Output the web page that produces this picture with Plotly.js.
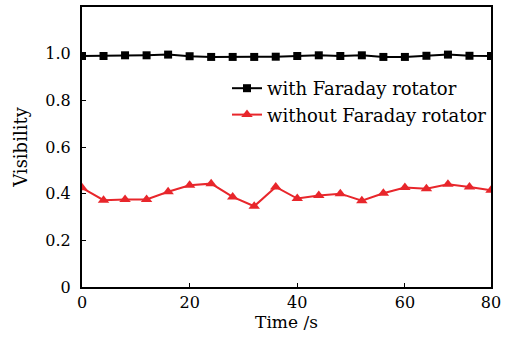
<!DOCTYPE html>
<html>
<head>
<meta charset="utf-8">
<script src="https://cdn.plot.ly/plotly-3.0.1.min.js"></script>
<style>html,body{margin:0;padding:0;background:#fff;}#chart{width:518px;height:341px;}</style>
</head>
<body>
<div id="chart"></div>
<script>
const timeS = [0,4,8,12,16,20,24,28,32,36,40,44,48,52,56,60,64,68,72,76];
const withRotator = [0.990,0.990,0.993,0.993,0.996,0.989,0.986,0.986,0.986,0.987,0.990,0.993,0.990,0.993,0.986,0.986,0.991,0.996,0.991,0.990];
const withoutRotator = [0.425,0.372,0.375,0.375,0.408,0.436,0.443,0.386,0.346,0.429,0.379,0.392,0.400,0.370,0.402,0.426,0.421,0.440,0.429,0.415];
const xTickVals = [0,20,40,60,76];
const xTickText = ['0','20','40','60','80'];
const yTickVals = [0,0.2,0.4,0.6,0.8,1.0];
const yTickText = ['0','0.2','0.4','0.6','0.8','1.0'];
const seriesNames = ['with Faraday rotator','without Faraday rotator'];

const font = {family:'DejaVu Serif, Liberation Serif, serif', size:16, color:'#000'};
const traces = [
  {x:timeS, y:withRotator, name:seriesNames[0], mode:'lines+markers',
   line:{color:'#000', width:2}, marker:{symbol:'square', size:8, color:'#000'}},
  {x:timeS, y:withoutRotator, name:seriesNames[1], mode:'lines+markers',
   line:{color:'#e8262b', width:2}, marker:{symbol:'triangle-up', size:10, color:'#e8262b'}}
];
const layout = {
  width:518, height:341,
  margin:{l:82, r:27, t:7, b:54},
  paper_bgcolor:'#fff', plot_bgcolor:'#fff',
  font:font,
  showlegend:true,
  legend:{x:0.3545, y:0.775, xanchor:'left', yanchor:'top', bgcolor:'rgba(0,0,0,0)',
          font:{family:font.family, size:18, color:'#000'}, tracegroupgap:0, itemwidth:30},
  xaxis:{range:[0,76], tickvals:xTickVals, ticktext:xTickText, ticks:'inside', ticklen:4,
         tickcolor:'#000', showline:true, linecolor:'#000', linewidth:2, mirror:true,
         showgrid:false, zeroline:false, title:{text:'Time /s', font:{size:17}, standoff:2}},
  yaxis:{range:[0,1.2], tickvals:yTickVals, ticktext:yTickText, ticks:'inside', ticklen:4,
         tickcolor:'#000', showline:true, linecolor:'#000', linewidth:2, mirror:true,
         showgrid:false, zeroline:false, ticklabelstandoff:6,
         title:{text:'Visibility', font:{size:18}, standoff:13}}
};
Plotly.newPlot('chart', traces, layout, {displayModeBar:false, staticPlot:true});
</script>
</body>
</html>
